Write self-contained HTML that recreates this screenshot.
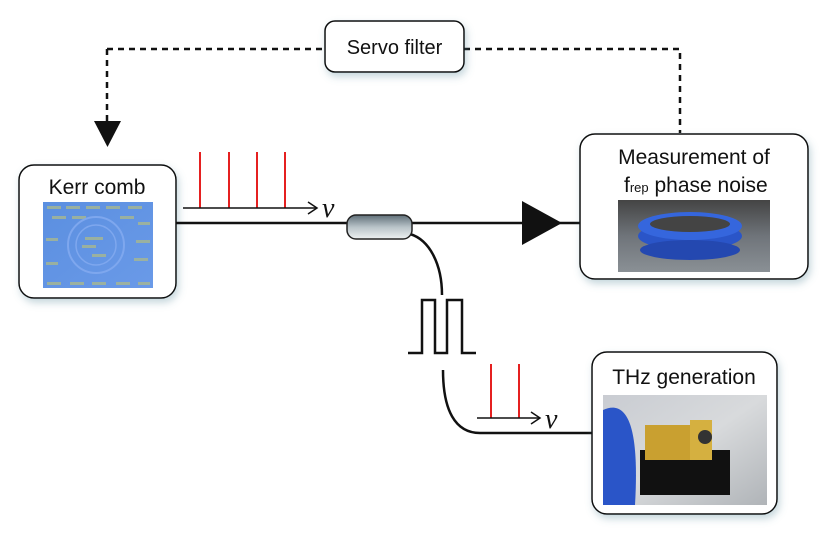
<!DOCTYPE html>
<html><head><style>
body{margin:0;background:#fff;width:830px;height:543px;overflow:hidden}
svg{display:block}
text{font-family:"Liberation Sans",sans-serif;fill:#111}
</style></head><body>
<svg width="830" height="543" viewBox="0 0 830 543" xmlns="http://www.w3.org/2000/svg">
<defs>
<filter id="sh" x="-20%" y="-20%" width="140%" height="150%"><feDropShadow dx="2" dy="4" stdDeviation="4" flood-color="#5a8a9a" flood-opacity="0.35"/></filter>
<linearGradient id="cp" x1="0" y1="0" x2="0" y2="1"><stop offset="0" stop-color="#5f6f78"/><stop offset="0.5" stop-color="#b8c3c8"/><stop offset="1" stop-color="#eef1f2"/></linearGradient>
<linearGradient id="chip" x1="0" y1="0" x2="1" y2="1"><stop offset="0" stop-color="#5b8fe0"/><stop offset="1" stop-color="#6a9ae8"/></linearGradient>
<linearGradient id="m1" x1="0" y1="0" x2="0" y2="1"><stop offset="0" stop-color="#444"/><stop offset="0.5" stop-color="#6f747a"/><stop offset="1" stop-color="#8a9095"/></linearGradient>
<linearGradient id="m2" x1="0" y1="0" x2="1" y2="1"><stop offset="0" stop-color="#c9ccd2"/><stop offset="0.5" stop-color="#d8dadc"/><stop offset="1" stop-color="#b0b4b8"/></linearGradient>
</defs>
<polyline points="107,49 325,49" fill="none" stroke="#111" stroke-width="2.5" stroke-dasharray="6,5"/>
<polyline points="464,49 680,49 680,133" fill="none" stroke="#111" stroke-width="2.5" stroke-dasharray="6,5"/>
<polyline points="107,49 107,122" fill="none" stroke="#111" stroke-width="2.5" stroke-dasharray="6,5"/>
<polygon points="94,121 121,121 107.5,147" fill="#111"/>
<rect x="325" y="21" width="139" height="51" rx="10" fill="#fff" stroke="#111" stroke-width="1.5" filter="url(#sh)"/>
<text x="394.5" y="54" font-size="20" text-anchor="middle">Servo filter</text>
<rect x="19" y="165" width="157" height="133" rx="15" fill="#fff" stroke="#111" stroke-width="1.5" filter="url(#sh)"/>
<text x="97" y="194" font-size="21" text-anchor="middle">Kerr comb</text>
<rect x="43" y="202" width="110" height="86" fill="url(#chip)"/>
<g fill="#a8b890" opacity="0.8">
<rect x="47" y="206" width="14" height="3"/><rect x="66" y="206" width="14" height="3"/><rect x="86" y="206" width="14" height="3"/><rect x="106" y="206" width="14" height="3"/><rect x="128" y="206" width="14" height="3"/>
<rect x="52" y="216" width="14" height="3"/><rect x="72" y="216" width="14" height="3"/><rect x="120" y="216" width="14" height="3"/><rect x="138" y="222" width="12" height="3"/>
<rect x="46" y="238" width="12" height="3"/><rect x="85" y="237" width="18" height="3"/><rect x="82" y="245" width="14" height="3"/><rect x="136" y="240" width="14" height="3"/>
<rect x="46" y="262" width="12" height="3"/><rect x="92" y="254" width="14" height="3"/><rect x="134" y="258" width="14" height="3"/>
<rect x="47" y="282" width="14" height="3"/><rect x="70" y="282" width="14" height="3"/><rect x="92" y="282" width="14" height="3"/><rect x="116" y="282" width="14" height="3"/><rect x="138" y="282" width="12" height="3"/>
</g>
<circle cx="96" cy="245" r="28" fill="none" stroke="#7ea7ee" stroke-width="2"/>
<circle cx="96" cy="245" r="20" fill="none" stroke="#7ea7ee" stroke-width="1.5"/>
<g stroke="#e52020" stroke-width="2"><line x1="200" y1="152" x2="200" y2="208"/><line x1="229" y1="152" x2="229" y2="208"/><line x1="257" y1="152" x2="257" y2="208"/><line x1="285" y1="152" x2="285" y2="208"/></g>
<line x1="183" y1="208" x2="317" y2="208" stroke="#111" stroke-width="1.5"/>
<polyline points="308,202 317,208 308,214" fill="none" stroke="#111" stroke-width="1.5"/>
<text x="322" y="217" font-size="28" font-style="italic" style="font-family:'Liberation Serif',serif">ν</text>
<line x1="176" y1="223" x2="580" y2="223" stroke="#111" stroke-width="2.5"/>
<polygon points="522,201 522,245 562,223" fill="#111"/>
<path d="M410,234 C430,240 442,265 442,295" fill="none" stroke="#111" stroke-width="2.5"/>
<rect x="347" y="215" width="65" height="24" rx="9" fill="url(#cp)" stroke="#222" stroke-width="1.5"/>
<rect x="580" y="134" width="228" height="145" rx="15" fill="#fff" stroke="#111" stroke-width="1.5" filter="url(#sh)"/>
<text x="694" y="164" font-size="21" text-anchor="middle">Measurement of</text>
<text x="624" y="192" font-size="21">f<tspan font-size="13">rep</tspan> phase noise</text>
<rect x="618" y="200" width="152" height="72" fill="url(#m1)"/>
<ellipse cx="690" cy="236" rx="52" ry="14" fill="#2a55c8"/>
<ellipse cx="690" cy="226" rx="52" ry="14" fill="#3566dd"/>
<ellipse cx="690" cy="224" rx="40" ry="8" fill="#444"/>
<ellipse cx="690" cy="250" rx="50" ry="10" fill="#2448b0"/>
<polyline points="408,353 422,353 422,300 435,300 435,353 447,353 447,300 462,300 462,353 476,353" fill="none" stroke="#111" stroke-width="2.5"/>
<path d="M443,370 C443,410 455,433 480,433 L592,433" fill="none" stroke="#111" stroke-width="2.5"/>
<g stroke="#e52020" stroke-width="2"><line x1="491" y1="364" x2="491" y2="418"/><line x1="519" y1="364" x2="519" y2="418"/></g>
<line x1="477" y1="418" x2="540" y2="418" stroke="#111" stroke-width="1.5"/>
<polyline points="531,412 540,418 531,424" fill="none" stroke="#111" stroke-width="1.5"/>
<text x="545" y="428" font-size="28" font-style="italic" style="font-family:'Liberation Serif',serif">ν</text>
<rect x="592" y="352" width="185" height="162" rx="15" fill="#fff" stroke="#111" stroke-width="1.5" filter="url(#sh)"/>
<text x="684" y="384" font-size="21" text-anchor="middle">THz generation</text>
<rect x="603" y="395" width="164" height="110" fill="url(#m2)"/>
<path d="M603,410 C625,400 640,420 635,505 L603,505 Z" fill="#2a55c8"/>
<rect x="640" y="450" width="90" height="45" fill="#111"/>
<rect x="645" y="425" width="60" height="35" fill="#c9a030"/>
<rect x="690" y="420" width="22" height="40" fill="#d5b040"/>
<circle cx="705" cy="437" r="7" fill="#333"/>
</svg>
</body></html>
